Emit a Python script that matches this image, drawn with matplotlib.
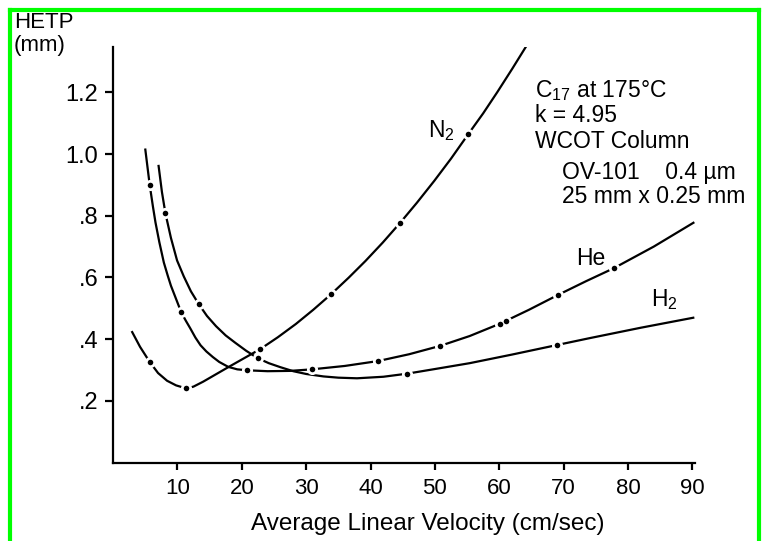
import matplotlib
matplotlib.use("Agg")
import matplotlib.pyplot as plt
from matplotlib.lines import Line2D

plt.rcParams['font.family'] = ['Liberation Sans', 'DejaVu Sans']
plt.rcParams['mathtext.fontset'] = 'custom'
plt.rcParams['mathtext.rm'] = 'Liberation Sans'
plt.rcParams['mathtext.it'] = 'Liberation Sans:italic'

# ---- data ----
# curves (average linear velocity cm/sec, HETP mm)
n2_v = [2.9, 4.2, 5.7, 7.0, 8.4, 9.8, 11.4, 12.5, 14.0, 17.9, 22.9, 25.6, 28.4, 31.1, 33.9, 36.6, 39.2, 41.9,
        44.6, 47.2, 49.9, 52.5, 55.2, 57.5, 59.7, 62.0, 64.2]
n2_h = [0.426, 0.375, 0.326, 0.290, 0.265, 0.250, 0.240, 0.246, 0.262, 0.309, 0.368, 0.406, 0.449, 0.495, 0.546,
        0.599, 0.653, 0.713, 0.777, 0.842, 0.913, 0.985, 1.065, 1.132, 1.201, 1.276, 1.350]

he_v = [5.0, 5.7, 6.2, 6.6, 7.2, 7.9, 8.5, 9.0, 9.8, 10.6, 11.3, 12.0, 12.8, 13.6, 14.5, 15.5, 16.5, 17.9, 19.3,
        20.8, 24.0, 27.5, 30.9, 36.0, 41.2, 46.0, 50.8, 55.4, 60.1, 64.6, 69.1, 73.5, 77.8, 84.0, 90.3]
he_h = [1.018, 0.900, 0.830, 0.778, 0.714, 0.648, 0.606, 0.573, 0.530, 0.487, 0.460, 0.435, 0.405, 0.380, 0.360,
        0.342, 0.326, 0.310, 0.302, 0.299, 0.296, 0.297, 0.302, 0.313, 0.329, 0.351, 0.378, 0.410, 0.450, 0.495,
        0.543, 0.588, 0.630, 0.700, 0.779]

h2_v = [7.06, 7.6, 8.14, 9.0, 9.95, 11.0, 12.1, 13.3, 14.6, 16.0, 17.5, 19.0, 20.7, 22.5, 24.2, 26.0, 28.0, 30.0,
        32.7, 35.0, 37.9, 42.0, 45.7, 50.0, 55.4, 62.0, 69.0, 74.0, 82.0, 90.3]
h2_h = [0.965, 0.877, 0.808, 0.728, 0.655, 0.603, 0.555, 0.514, 0.475, 0.442, 0.412, 0.388, 0.362, 0.338, 0.322,
        0.309, 0.296, 0.287, 0.279, 0.275, 0.273, 0.278, 0.288, 0.303, 0.322, 0.350, 0.381, 0.403, 0.437, 0.470]

# measured points (dots)
n2_pts_v = [5.7, 11.4, 22.9, 33.9, 44.6, 55.2]
n2_pts_h = [0.326, 0.240, 0.368, 0.546, 0.777, 1.065]
he_pts_v = [5.7, 10.6, 20.8, 30.9, 41.2, 50.8, 60.1, 61.0, 69.1, 77.8]
he_pts_h = [0.900, 0.487, 0.299, 0.302, 0.329, 0.378, 0.450, 0.458, 0.543, 0.630]
h2_pts_v = [8.14, 13.3, 22.5, 45.7, 69.0]
h2_pts_h = [0.808, 0.514, 0.338, 0.288, 0.381]

x_ticks = [10, 20, 30, 40, 50, 60, 70, 80, 90]
y_ticks = [0.2, 0.4, 0.6, 0.8, 1.0, 1.2]
y_tick_labels = ['.2', '.4', '.6', '.8', '1.0', '1.2']

W, H = 766, 541
fig = plt.figure(figsize=(W / 100, H / 100), dpi=100)
ax = fig.add_axes([113 / W, (H - 462.5) / H, (695 - 113) / W, (462.5 - 47) / H])

for v, h in [(n2_v, n2_h), (he_v, he_h), (h2_v, h2_h)]:
    ax.plot(v, h, color='black', lw=1.6, solid_capstyle='butt', solid_joinstyle='round', zorder=2)
for v, h in [(n2_pts_v, n2_pts_h), (he_pts_v, he_pts_h), (h2_pts_v, h2_pts_h)]:
    ax.plot(v, h, 'o', color='white', ms=8, mec='none', zorder=3)
    ax.plot(v, h, 'o', color='black', ms=4, mec='none', zorder=4)

ax.set_xlim(0, 90.4)
ax.set_ylim(0, 1.347)
ax.spines['top'].set_visible(False)
ax.spines['right'].set_visible(False)
for s in ['left', 'bottom']:
    ax.spines[s].set_linewidth(1.6)
ax.set_xticks(x_ticks)
ax.set_xticklabels([str(t) for t in x_ticks])
ax.set_yticks(y_ticks)
ax.set_yticklabels(y_tick_labels)
ax.tick_params(axis='x', direction='out', length=5, width=1.6, labelsize=16, pad=6)
ax.tick_params(axis='y', direction='out', length=6, width=1.6, labelsize=17, pad=4.5)

fig.text(428 / W, 1 - 524 / H, 'Average Linear Velocity (cm/sec)', fontsize=17.5, ha='center', va='center')
fig.text(14 / W, 1 - 22 / H, 'HETP', fontsize=16, ha='left', va='center')
fig.text(14 / W, 1 - 46 / H, '(mm)', fontsize=16, ha='left', va='center')

ax.text(49.0, 1.056, 'N$_2$', fontsize=16.5, ha='left', va='baseline')
ax.text(72.0, 0.640, 'He', fontsize=16.5, ha='left', va='baseline')
ax.text(83.5, 0.507, 'H$_2$', fontsize=16.5, ha='left', va='baseline')

ax.text(65.5, 1.185, 'C$_{17}$ at 175°C', fontsize=16.5, ha='left', va='baseline')
ax.text(65.5, 1.103, 'k = 4.95', fontsize=16.5, ha='left', va='baseline')
ax.text(65.5, 1.021, 'WCOT Column', fontsize=16.5, ha='left', va='baseline')
ax.text(69.7, 0.920, 'OV-101    0.4 µm', fontsize=16.5, ha='left', va='baseline')
ax.text(69.7, 0.840, '25 mm x 0.25 mm', fontsize=16.5, ha='left', va='baseline')

# green frame of the reference image
g = '#00ff00'
fig.add_artist(Line2D([10 / W, 10 / W], [0, 1 - 10 / H], color=g, lw=3, transform=fig.transFigure))
fig.add_artist(Line2D([10 / W, 759 / W], [1 - 10 / H, 1 - 10 / H], color=g, lw=3, transform=fig.transFigure))
fig.add_artist(Line2D([759 / W, 759 / W], [0, 1 - 10 / H], color=g, lw=3, transform=fig.transFigure))

fig.savefig('out.png', dpi=100)
